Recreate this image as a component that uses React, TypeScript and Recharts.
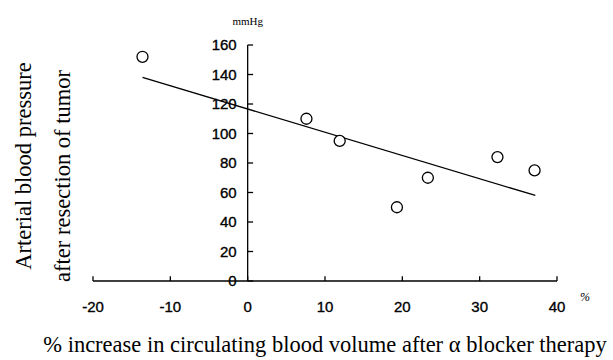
import React from 'react';
import { ScatterChart, Scatter, XAxis, YAxis, ReferenceLine } from 'recharts';

const volumeIncrease = [-13.6, 7.6, 11.9, 19.3, 23.3, 32.3, 37.1];
const bloodPressure = [152, 110, 95, 50, 70, 84, 75];
const fitLine = [
  { x: -13.6, y: 138 },
  { x: 37.2, y: 58 },
];
const xTicks = [-20, -10, 0, 10, 20, 30, 40];
const yTicks = [0, 20, 40, 60, 80, 100, 120, 140, 160];

const points = volumeIncrease.map((x, i) => ({ x, y: bloodPressure[i] }));

const serif = '"Liberation Serif", "Times New Roman", serif';
const sans = '"Liberation Sans", Arial, sans-serif';
const tickFont = { fill: '#000', stroke: '#000', strokeWidth: 0.35, fontSize: 15, fontFamily: sans };

export default function App() {
  return (
    <div style={{ position: 'absolute', left: 0, top: 0, width: 613, height: 360, background: '#fff' }}>
      <ScatterChart width={613} height={360} margin={{ top: 45, right: 56, left: 93, bottom: 49 }}>
        <XAxis
          type="number"
          dataKey="x"
          domain={[-20, 40]}
          ticks={xTicks}
          allowDataOverflow
          tickLine={false}
          axisLine={{ stroke: '#000', strokeWidth: 1.3 }}
          tickMargin={14}
          height={30}
          tick={tickFont}
        />
        <YAxis type="number" dataKey="y" domain={[0, 160]} ticks={yTicks} hide />
        <ReferenceLine
          x={0}
          stroke="#000"
          strokeWidth={1.3}
          label={{ value: 'mmHg', position: 'top', offset: 20, fill: '#000', fontSize: 11, fontFamily: serif }}
        />
        {yTicks.map((v) => (
          <ReferenceLine
            key={'y' + v}
            segment={[{ x: 0, y: v }, { x: 0.7, y: v }]}
            stroke="#000"
            strokeWidth={1.3}
            label={{ value: String(v), position: 'left', offset: 11, ...tickFont }}
          />
        ))}
        {xTicks.map((v) => (
          <ReferenceLine
            key={'x' + v}
            segment={[{ x: v, y: 0 }, { x: v, y: 3.2 }]}
            stroke="#000"
            strokeWidth={1.3}
          />
        ))}
        <ReferenceLine segment={fitLine} stroke="#000" strokeWidth={1.3} />
        <Scatter
          data={points}
          isAnimationActive={false}
          shape={(p: any) => <circle cx={p.cx} cy={p.cy} r={5.5} fill="#fff" stroke="#000" strokeWidth={1.3} />}
        />
      </ScatterChart>
      <div style={{ position: 'absolute', left: 580, top: 290, fontSize: 12, fontFamily: serif, fontStyle: 'italic' }}>%</div>
      <div
        style={{
          position: 'absolute',
          left: 0,
          width: 613,
          top: 332,
          textAlign: 'center',
          paddingLeft: 37,
          boxSizing: 'border-box',
          fontSize: 22.5,
          fontFamily: serif,
          whiteSpace: 'nowrap',
        }}
      >
        % increase in circulating blood volume after α blocker therapy
      </div>
      <div
        style={{
          position: 'absolute',
          left: 24,
          top: 166,
          transform: 'translate(-50%, -50%) rotate(-90deg)',
          fontSize: 22.5,
          fontFamily: serif,
          whiteSpace: 'nowrap',
        }}
      >
        Arterial blood pressure
      </div>
      <div
        style={{
          position: 'absolute',
          left: 63,
          top: 176,
          transform: 'translate(-50%, -50%) rotate(-90deg)',
          fontSize: 22.5,
          fontFamily: serif,
          whiteSpace: 'nowrap',
        }}
      >
        after resection of tumor
      </div>
    </div>
  );
}
